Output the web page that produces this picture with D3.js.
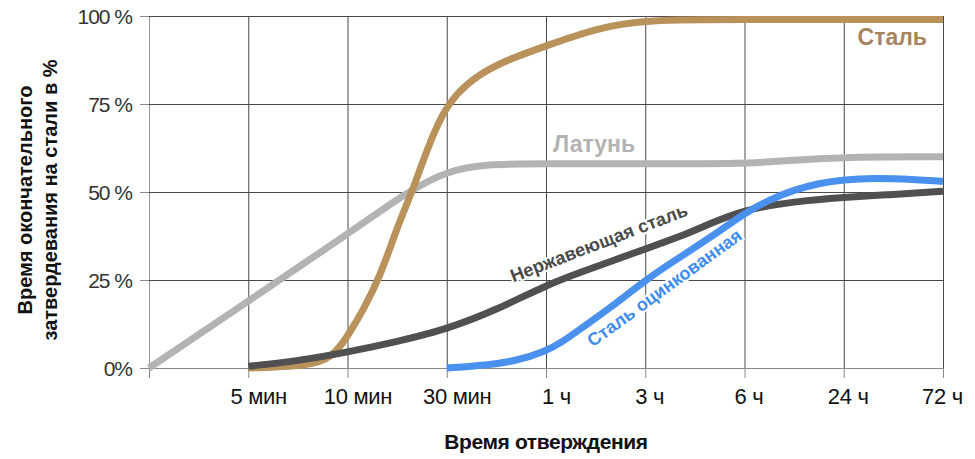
<!DOCTYPE html>
<html>
<head>
<meta charset="utf-8">
<script src="https://cdn.jsdelivr.net/npm/d3@7"></script>
<style>
  html, body { margin: 0; padding: 0; background: #fff; }
  svg { display: block; }
</style>
</head>
<body>
<svg id="chart" width="975" height="459"></svg>
<script>
// ---- data ----
const xLabels = ["", "5 мин", "10 мин", "30 мин", "1 ч", "3 ч", "6 ч", "24 ч", "72 ч"];
const yTicks = [0, 25, 50, 75, 100];
const yTickLabels = ["0%", "25 %", "50 %", "75 %", "100 %"];

// x = position on the time axis (index of tick label, fractional between ticks), y = %
const brass = [[0,0],[1,19],[2,38],[2.6,50],[3,56],[3.4,58],[4,58],[5,58],[6,58],[6.5,59],[7,60],[8,60]];
const steel = [[1,0],[1.6,0.5],[1.85,3],[2,9],[2.15,16],[2.33,26],[2.5,40],[2.65,50],[2.8,62],[2.95,72],[3.1,78],[3.3,83],[3.6,87.5],[4,91.5],[4.5,96.5],[5,99],[6,99],[7,99],[8,99]];
const stainless = [[1,0.5],[1.5,2],[2,4.5],[2.5,7.5],[3,11],[3.5,16.5],[4,23.5],[4.35,27.2],[4.7,30.8],[5,33.8],[5.35,37.3],[5.65,41],[6,45],[6.5,47.3],[7,48.5],[7.5,49.3],[8,50.2]];
const galvanized = [[3,0],[3.4,0.8],[3.7,2],[4,4.8],[4.17,7.5],[4.34,11],[4.67,17.5],[5,25],[5.35,31.5],[5.68,37.5],[6,44],[6.25,47.8],[6.5,50.6],[6.75,52.5],[7,53.5],[7.3,54],[7.7,53.6],[8,53]];

const seriesNames = ["Латунь", "Сталь", "Нержавеющая сталь", "Сталь оцинкованная"];

// ---- layout ----
const svg = d3.select("#chart");
const mLeft = 149, mRight = 943, mTop = 16, mBottom = 368;
const x = d3.scaleLinear().domain([0, 8]).range([mLeft, mRight]);
const y = d3.scaleLinear().domain([0, 100]).range([mBottom, mTop]);

const gridColor = "#4a4a4a";
const fontMain = "'Liberation Sans', Arial, Helvetica, sans-serif";

// vertical grid
const gx = svg.append("g").attr("transform", `translate(0,${mBottom})`)
  .call(d3.axisBottom(x).tickValues(d3.range(0, 9)).tickSize(-(mBottom - mTop)).tickFormat(""));
gx.select(".domain").remove();
gx.selectAll("line").attr("stroke", gridColor).attr("stroke-width", 1);
gx.selectAll(".tick").filter(d => d === 0).select("line").attr("stroke", "#9a9a9a");

// horizontal grid
const gy = svg.append("g").attr("transform", `translate(${mLeft},0)`)
  .call(d3.axisLeft(y).tickValues(yTicks).tickSize(-(mRight - mLeft)).tickFormat(""));
gy.select(".domain").remove();
gy.selectAll("line").attr("stroke", gridColor).attr("stroke-width", 1);
gy.selectAll(".tick").filter(d => d === 0).select("line").attr("stroke", "#8a8a8a");

// y axis ticks + labels
const yAxis = svg.append("g").attr("transform", `translate(${mLeft},0)`)
  .call(d3.axisLeft(y).tickValues(yTicks).tickSize(9).tickPadding(8)
    .tickFormat((d, i) => yTickLabels[i]));
yAxis.select(".domain").remove();
yAxis.selectAll("line").attr("stroke", "#8a8a8a");
yAxis.selectAll("text").attr("font-family", fontMain).attr("font-size", 21)
  .attr("fill", "#333").attr("letter-spacing", "-1px").attr("dy", "0.35em");

// x axis ticks + labels
const xAxis = svg.append("g").attr("transform", `translate(0,${mBottom})`)
  .call(d3.axisBottom(x).tickValues(d3.range(0, 9)).tickSize(10).tickPadding(10)
    .tickFormat(i => xLabels[i]));
xAxis.select(".domain").attr("stroke", "#8a8a8a").attr("d", `M${mLeft - 9},0.5H${mRight}`);
xAxis.selectAll("line").attr("stroke", "#8a8a8a");
xAxis.selectAll("text").attr("font-family", fontMain)
  .attr("font-size", 22).attr("fill", "#111").attr("letter-spacing", "-0.3px")
  .attr("dx", d => (d <= 4 ? 10 : d < 8 ? 4 : -1));

// curves
const line = d3.line().x(d => x(d[0])).y(d => y(d[1])).curve(d3.curveBasis);
const series = [
  { data: brass, color: "#b3b3b3" },
  { data: steel, color: "#b8925a" },
  { data: stainless, color: "#505050" },
  { data: galvanized, color: "#4a90ee" }
];
svg.append("g").selectAll("path").data(series).join("path")
  .attr("d", s => line(s.data))
  .attr("fill", "none")
  .attr("stroke", s => s.color)
  .attr("stroke-width", 7)
  .attr("stroke-linecap", "butt");

// series labels
const lab = svg.append("g").attr("font-family", fontMain).attr("font-weight", "bold");
lab.append("text").attr("x", x(8) - 16).attr("y", y(91.8)).attr("text-anchor", "end")
  .attr("font-size", 23).attr("fill", "#a8835e").text(seriesNames[1]);
lab.append("text").attr("x", x(4.07)).attr("y", y(61.3)).attr("text-anchor", "start")
  .attr("font-size", 23).attr("fill", "#b3b3b3").text(seriesNames[0]);
lab.append("text").attr("transform", `translate(${x(3.67)},${y(24.3)}) rotate(-21)`)
  .attr("font-size", 18.3).attr("fill", "#4a4a4a")
  .attr("stroke", "#fff").attr("stroke-width", 4).attr("paint-order", "stroke")
  .text(seriesNames[2]);
lab.append("text").attr("transform", `translate(${x(4.47)},${y(5.8)}) rotate(-36)`)
  .attr("font-size", 18).attr("fill", "#3f8cf0")
  .attr("stroke", "#fff").attr("stroke-width", 4).attr("paint-order", "stroke")
  .text(seriesNames[3]);

// axis titles
svg.append("text").attr("x", x(4)).attr("y", 449).attr("text-anchor", "middle")
  .attr("font-family", fontMain).attr("font-weight", "bold").attr("font-size", 21)
  .attr("letter-spacing", "-0.4px")
  .attr("fill", "#111").text("Время отверждения");
const yt = svg.append("text").attr("transform", "translate(0,200) rotate(-90)")
  .attr("text-anchor", "middle").attr("font-family", fontMain).attr("font-weight", "bold")
  .attr("font-size", 20).attr("fill", "#111");
yt.append("tspan").attr("x", 0).attr("y", 32).text("Время окончательного");
yt.append("tspan").attr("x", 0).attr("y", 57).text("затвердевания на стали в %");
</script>
</body>
</html>
